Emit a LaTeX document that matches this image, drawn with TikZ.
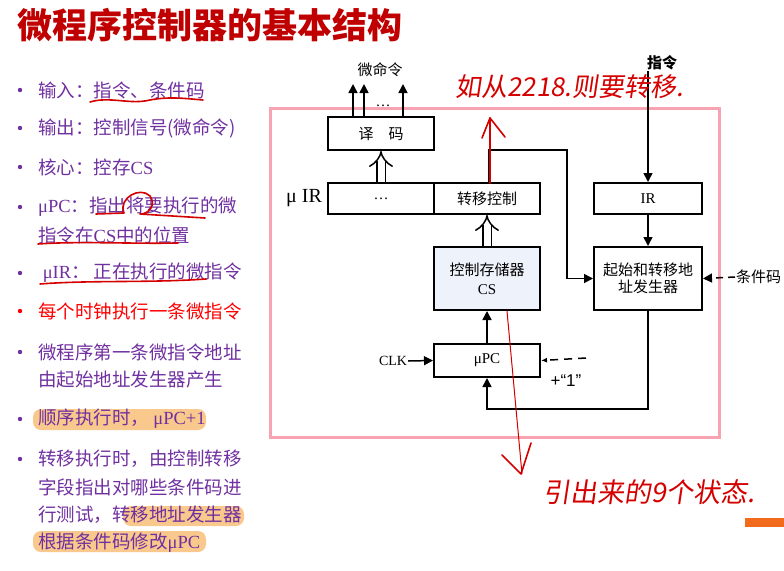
\documentclass[tikz,border=0pt]{standalone}
\usepackage{fontspec}
\setmainfont{Liberation Serif}
\newfontfamily\cjk{Noto Sans CJK SC}
\newfontfamily\lsans{Liberation Sans}
\newfontfamily\hand[FakeSlant=0.15]{Noto Sans CJK SC}
\usetikzlibrary{arrows.meta}
\definecolor{ttl}{HTML}{C00000}
\definecolor{pur}{HTML}{7030A0}
\definecolor{hred}{HTML}{D40000}
\definecolor{hl}{HTML}{F9C88C}
\definecolor{pinkb}{HTML}{F7A3B2}
\definecolor{csfill}{HTML}{EEF3FB}
\definecolor{obar}{HTML}{F26B1D}
\newcommand\rmx[1]{{\rmfamily #1}}
\tikzset{
  box/.style={draw, line width=2pt, fill=white, inner sep=0pt, font=\cjk\fontsize{15}{17}\selectfont},
  arr/.style={line width=1.5pt, -{Triangle[length=9pt,width=9pt]}},
  dbl/.style={line width=1.5pt, double distance=7pt, -{Implies}},
  btxt/.style={anchor=west, text=pur, font=\cjk\fontsize{18.5}{20}\selectfont, inner sep=0pt},
  bul/.style={fill=pur, draw=none},
  hlt/.style={fill=hl, rounded corners=8pt, draw=none},
  ink/.style={draw=hred, line width=1.6pt, line cap=round, line join=round},
  lbl/.style={font=\cjk\fontsize{15}{17}\selectfont, inner sep=1pt}
}
\begin{document}
\begin{tikzpicture}[x=1pt,y=-1pt]
\useasboundingbox (0,0) rectangle (784,570);
% title
\node[anchor=west, text=ttl, inner sep=0pt, font=\cjk\bfseries\fontsize{35}{38}\selectfont] (title) at (17,25) {微程序控制器的基本结构};
% highlights
\fill[hlt] (33,409) rectangle (206,430);
\fill[hlt] (123,506) rectangle (244,526);
\fill[hlt] (33,531) rectangle (206,552);
% bullets
\foreach \y in {90,128,167,207,273,352,419,459} \fill[bul] (20,\y) circle (2.2);
\fill[red] (20,311) circle (2.2);
\node[btxt] (b1) at (38,90) {输入：指令、条件码};
\node[btxt] (b2) at (38,128) {输出：控制信号(微命令)};
\node[btxt] (b3) at (38,167) {核心：控存\rmx{CS}};
\node[btxt] (b4) at (38,207) {\rmx{μPC}：指出将要执行的微};
\node[btxt] (b4b) at (38,235) {指令在\rmx{CS}中的位置};
\node[btxt] (b5) at (38,273) {\rmx{ μIR}：\ 正在执行的微指令};
\node[btxt, text=red] (b6) at (38,311) {每个时钟执行一条微指令};
\node[btxt] (b7) at (38,352) {微程序第一条微指令地址};
\node[btxt] (b7b) at (38,380) {由起始地址发生器产生};
\node[btxt] (b8) at (38,419) {顺序执行时，\ \rmx{μPC+1}};
\node[btxt] (b9) at (38,459) {转移执行时，由控制转移};
\node[btxt] (b9b) at (38,487) {字段指出对哪些条件码进};
\node[btxt] (b9c) at (38,515) {行测试，转移地址发生器};
\node[btxt] (b9d) at (38,543) {根据条件码修改\rmx{μPC}};
% hand underlines
\draw[ink] (90,102) .. controls (110,96) and (130,105) .. (150,100) .. controls (170,96) and (190,99) .. (203,100);
\draw[ink] (96,214) -- (124,213) .. controls (118,198) and (140,186) .. (150,196) .. controls (156,204) and (150,214) .. (140,214) -- (205,218);
\draw[ink] (38,244) .. controls (80,241) and (130,244) .. (178,243);
\draw[ink] (40,284) .. controls (90,280) and (150,283) .. (206,279);
% frame
\draw[pinkb, line width=3pt] (270,108) rectangle (719,437);
% diagram boxes
\node[box, minimum width=106pt, minimum height=33pt] (dec) at (381,133.5) {译\quad 码};
\node[box, minimum width=106pt, minimum height=31pt] (irl) at (381,198.5) {\rmx{…}};
\node[box, minimum width=106pt, minimum height=31pt] (irr) at (487,198.5) {转移控制};
\node[box, fill=csfill, minimum width=106pt, minimum height=63pt, align=center] (cs) at (487,278.5) {控制存储器\\[2pt]\rmx{CS}};
\node[box, minimum width=108pt, minimum height=31pt] (ir) at (648,198.5) {\rmx{IR}};
\node[box, minimum width=108pt, minimum height=63pt, align=center] (gen) at (648,278.5) {起始和转移地\\址发生器};
\node[box, minimum width=106pt, minimum height=33pt] (upc) at (487,360.5) {\rmx{μPC}};
% labels
\node[lbl] (wml) at (380,70) {微命令};
\node[font=\fontsize{20}{22}\selectfont, inner sep=0pt] (muir) at (304,198) {μ IR};
\node[lbl, font=\cjk\bfseries\fontsize{15}{17}\selectfont] (instr) at (662,63) {指令};
\coordinate (instrtop) at (648,71);
\node[lbl, anchor=west] (cond) at (735,277) {条件码};
\node[font=\fontsize{14}{16}\selectfont, inner sep=1pt] (clk) at (393,361) {CLK};
\node[font=\lsans\fontsize{17}{19}\selectfont, inner sep=0pt] (plus1) at (566,381) {+“1”};
\node[font=\fontsize{15}{17}\selectfont, inner sep=0pt] (dots) at (383,106) {…};
% micro-command arrows
\coordinate (m1) at (353,84); \coordinate (m2) at (364,84); \coordinate (m3) at (403,84);
\draw[arr] (dec.north -| m1) -- (m1);
\draw[arr] (dec.north -| m2) -- (m2);
\draw[arr] (dec.north -| m3) -- (m3);
% double arrows
\draw[dbl] (irl.north) -- (dec.south);
\draw[dbl] (cs.north) -- (irr.south);
% branch control path
\coordinate (bc) at (489,183);
\coordinate (jt) at (567,150);
\draw[arr] (bc) |- (jt) |- (gen.west);
\draw[arr] (instrtop) -- (ir.north);
\draw[arr] (ir.south) -- (gen.north);
\draw[line width=1.5pt, dash pattern=on 7pt off 5pt, -{Triangle[length=9pt,width=9pt]}] (cond.west) -- (gen.east);
\draw[arr] (upc.north) -- (cs.south);
\draw[arr] (clk.east) -- (upc.west);
\coordinate (one) at (586,358);
\draw[line width=1.5pt, dash pattern=on 8pt off 6pt, -{Latex[length=6pt,width=5pt]}] (one) -- (upc.east);
\coordinate (fb) at (487,409);
\draw[arr] (gen.south) |- (fb) -- (upc.south);
% hand annotations
\node[anchor=west, text=hred, inner sep=0pt, font=\hand\fontsize{26}{28}\selectfont] (note1) at (455,87) {如从2218.则要转移.};
\coordinate (r1a) at (490,183); \coordinate (r1b) at (490,118);
\draw[ink] (r1a) -- (r1b);
\draw[ink] (482,138) -- (r1b) -- (505,137);
\coordinate (r2a) at (507,311); \coordinate (r2b) at (522,474);
\draw[draw=hred, line width=1pt] (r2a) -- (r2b);
\draw[ink] (502,455) -- (521,474) -- (531,443);
\node[anchor=west, text=hred, inner sep=0pt, font=\hand\fontsize{27}{30}\selectfont] (note2) at (543,492) {引出来的9个状态.};
% orange bar
\fill[obar] (745,518) rectangle (784,527);
\end{tikzpicture}
\end{document}
